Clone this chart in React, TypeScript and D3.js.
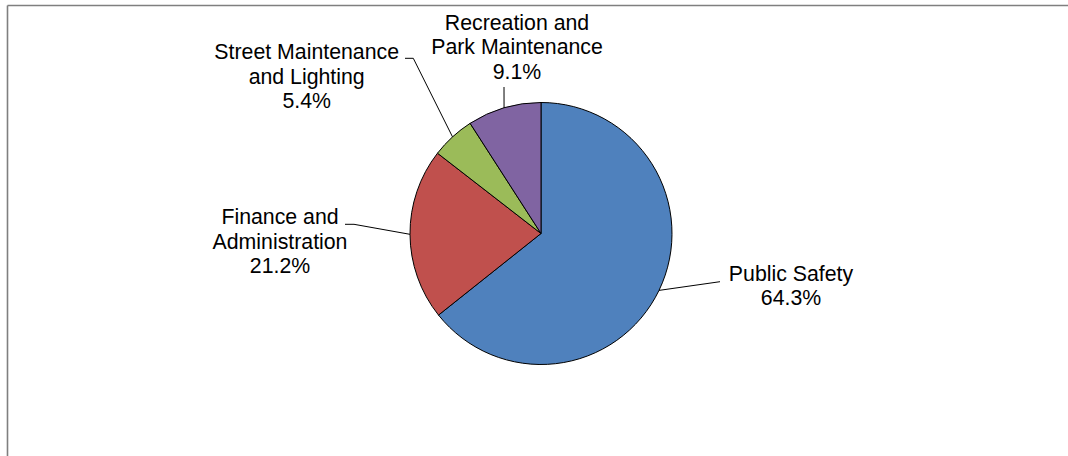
import React from "react";
import * as d3 from "d3";

const categories = [
  "Public Safety",
  "Finance and Administration",
  "Street Maintenance and Lighting",
  "Recreation and Park Maintenance",
];
const values = [64.3, 21.2, 5.4, 9.1];
const labelLines = [
  ["Public Safety", "64.3%"],
  ["Finance and", "Administration", "21.2%"],
  ["Street Maintenance", "and Lighting", "5.4%"],
  ["Recreation and", "Park Maintenance", "9.1%"],
];
const colors = ["#4F81BD", "#C0504D", "#9BBB59", "#8064A2"];

// layout (not data)
const W = 1068;
const H = 456;
const cx = 541;
const cy = 233.5;
const R = 131;
const FONT = 21.3;
const LH = 24.3;
const labelLayout = [
  { x: 791, y: 281, elbow: null as null | [number, number], end: [720, 281.7] },
  { x: 280, y: 224.3, elbow: [354, 224.3], end: [345, 224.3] },
  { x: 306.7, y: 59.3, elbow: [413.3, 58.3], end: [405, 58.3] },
  { x: 517, y: 30, elbow: null, end: [504, 87] },
];

export default function App() {
  const data = categories.map((c, i) => ({ c, v: values[i], i }));
  const pie = d3
    .pie<any>()
    .sort(null)
    .value((d) => d.v)
    .startAngle(0)
    .endAngle(2 * Math.PI);
  const arcs = pie(data);
  const arc = d3.arc<any>().innerRadius(0).outerRadius(R);

  return (
    <svg
      width={W}
      height={H}
      style={{ position: "absolute", left: 0, top: 0 }}
      fontFamily="'Liberation Sans', Arial, sans-serif"
    >
      <rect x={0} y={0} width={W} height={H} fill="#fff" />
      <line x1={7.5} y1={5.5} x2={W} y2={5.5} stroke="#7f7f7f" strokeWidth={1.6} />
      <line x1={7.5} y1={5.5} x2={7.5} y2={H} stroke="#7f7f7f" strokeWidth={1.6} />
      <g transform={`translate(${cx},${cy})`}>
        {arcs.map((a, i) => (
          <path key={i} d={arc(a) as string} fill={colors[i]} stroke="#000" strokeWidth={1} />
        ))}
      </g>
      {arcs.map((a, i) => {
        const mid = (a.startAngle + a.endAngle) / 2;
        const px = cx + R * Math.sin(mid);
        const py = cy - R * Math.cos(mid);
        const L = labelLayout[i];
        const pts: [number, number][] = [[px, py]];
        if (L.elbow) pts.push(L.elbow as [number, number]);
        pts.push(L.end as [number, number]);
        const line = d3.line()(pts) as string;
        return <path key={"l" + i} d={line} fill="none" stroke="#000" strokeWidth={1} />;
      })}
      {labelLines.map((lines, i) => (
        <text key={"t" + i} textAnchor="middle" fontSize={FONT} fill="#000">
          {lines.map((s, j) => (
            <tspan key={j} x={labelLayout[i].x} y={labelLayout[i].y + j * LH}>
              {s}
            </tspan>
          ))}
        </text>
      ))}
    </svg>
  );
}
